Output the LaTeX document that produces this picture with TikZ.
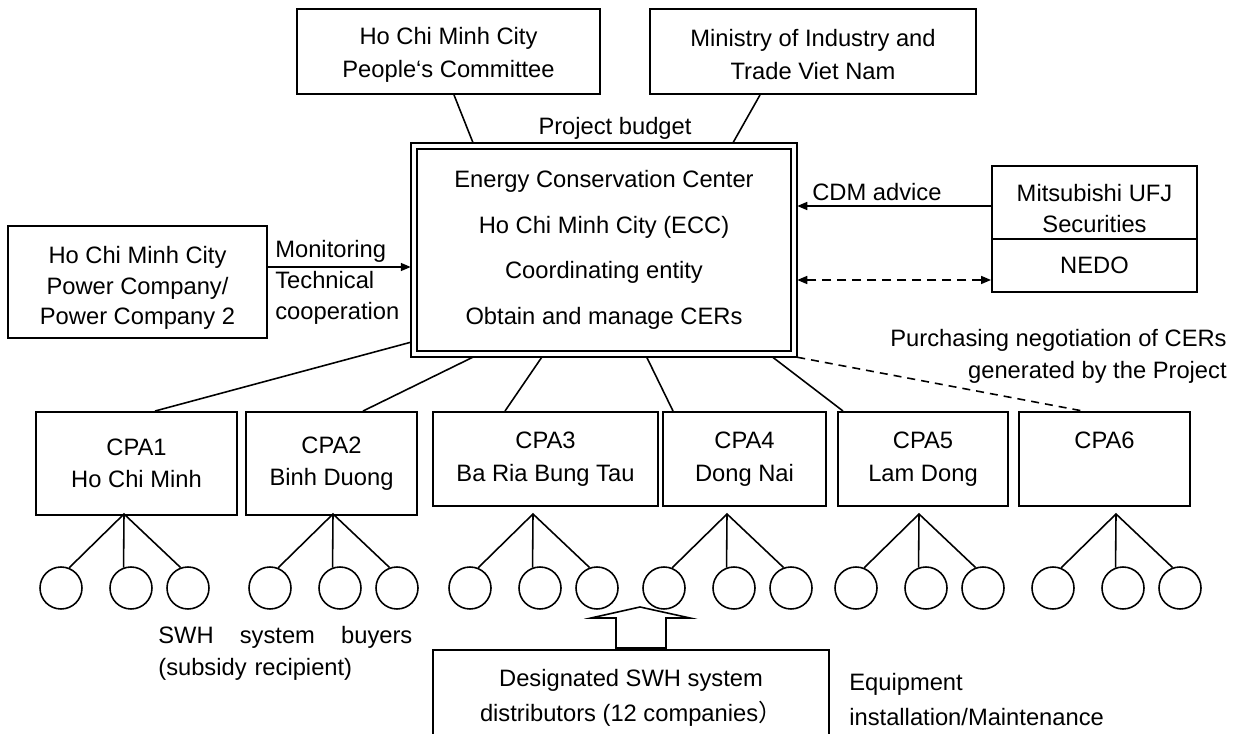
\documentclass[tikz,border=0pt]{standalone}
\usepackage{fontspec}
\setmainfont{Liberation Sans}
\newfontfamily\cjk{Noto Sans CJK SC}
\usetikzlibrary{positioning,arrows.meta}

\tikzset{
  every node/.style={font=\fontsize{13.5}{18.5}\selectfont},
  box/.style={draw, line width=1.1pt, align=center, inner sep=0pt},
  buyer/.style={draw, circle, line width=0.9pt, minimum size=0.84cm, inner sep=0pt},
  link/.style={line width=0.9pt},
  >={Triangle[length=0.2cm, width=0.16cm]}
}

\begin{document}
\begin{tikzpicture}
\useasboundingbox (0,0) rectangle (24.74,14.66);
\fill[white] (0,0) rectangle (24.74,14.66);

% funding side
\node[box, minimum width=6.06cm, minimum height=1.70cm, font=\fontsize{13.5}{19}\selectfont] (pcm) at (8.97, 13.63) {\rule{0pt}{13.5pt}Ho Chi Minh City\\People‘s Committee};
\node[box, minimum width=6.52cm, minimum height=1.70cm, font=\fontsize{13.5}{19}\selectfont] (moit) at (16.26, 13.63) {\rule{0pt}{13.5pt}Ministry of Industry and\\Trade Viet Nam};
\node (budget) at (12.30, 12.10) {Project budget};

% coordinating entity
\node[box, double, double distance=0.08cm, outer sep=0.06cm, minimum width=7.61cm, minimum height=4.17cm,
      font=\fontsize{13.5}{26}\selectfont] (ecc) at (12.08, 9.66)
  {Energy Conservation Center\\Ho Chi Minh City (ECC)\\Coordinating entity\\Obtain and manage CERs};

\draw[link] ([xshift=0.11cm]pcm.south) -- ([xshift=-2.62cm]ecc.north);
\draw[link] ([xshift=-1.06cm]moit.south) -- ([xshift=2.58cm]ecc.north);

% power company
\node[box, minimum width=5.18cm, minimum height=2.24cm, font=\fontsize{13.5}{17.4}\selectfont] (pow) at (2.75, 9.02)
  {\rule{0pt}{16.5pt}Ho Chi Minh City\\Power Company/\\Power Company 2};
\draw[link, ->] ([yshift=0.3cm]pow.east) -- ([yshift=0.3cm]pow.east -| ecc.west);
\node[anchor=west, align=left, inner sep=0pt, font=\fontsize{13.5}{17.6}\selectfont] (mon) at (5.50, 9.02)
  {Monitoring\\Technical\\cooperation};

% advisers
\node[box, minimum width=4.10cm, minimum height=1.46cm, font=\fontsize{13.5}{17.6}\selectfont] (mufj) at (21.89, 10.61)
  {\rule{0pt}{16.5pt}Mitsubishi UFJ\\Securities};
\node[box, minimum width=4.10cm, minimum height=1.06cm, below=-1.1pt of mufj] (nedo) {NEDO};
\draw[link, ->] ([yshift=-0.07cm]mufj.west) -- ([yshift=-0.07cm]mufj.west -| ecc.east);
\node[anchor=west, inner sep=0pt] (cdm) at (16.24, 10.82) {CDM advice};
\draw[link, dashed, dash pattern=on 0.18cm off 0.12cm, <->] ([yshift=-0.29cm]nedo.west) -- ([yshift=-0.29cm]nedo.west -| ecc.east);
\node[anchor=east, align=right, inner sep=0pt] (buy) at (24.54, 7.53)
  {Purchasing negotiation of CERs\\generated by the Project};

% CPAs
\node[box, minimum width=4.02cm, minimum height=2.06cm] (cpa1) at (2.73, 5.39) {CPA1\\Ho Chi Minh};
\node[box, minimum width=3.42cm, minimum height=2.06cm] (cpa2) at (6.63, 5.39) {CPA2\\Binh Duong};
\node[box, minimum width=4.50cm, minimum height=1.88cm] (cpa3) at (10.91, 5.48) {CPA3\\Ba Ria Bung Tau};
\node[box, minimum width=3.26cm, minimum height=1.88cm] (cpa4) at (14.89, 5.48) {CPA4\\Dong Nai};
\node[box, minimum width=3.40cm, minimum height=1.88cm] (cpa5) at (18.46, 5.48) {CPA5\\Lam Dong};
\node[box, minimum width=3.42cm, minimum height=1.88cm] (cpa6) at (22.09, 5.48) {CPA6\\\phantom{Lam Dong}};

\draw[link] ([yshift=0.3cm]ecc.south west) -- ([xshift=0.37cm]cpa1.north);
\draw[link] ([xshift=1.24cm]ecc.south west) -- ([xshift=0.63cm]cpa2.north);
\draw[link] ([xshift=2.62cm]ecc.south west) -- ([xshift=-0.81cm]cpa3.north);
\draw[link] ([xshift=4.72cm]ecc.south west) -- ([xshift=-1.43cm]cpa4.north);
\draw[link] ([xshift=7.24cm]ecc.south west) -- ([xshift=-1.60cm]cpa5.north);
\draw[link, dashed, dash pattern=on 0.16cm off 0.12cm] (ecc.south east) -- ([xshift=-0.43cm]cpa6.north);

% buyers under each CPA
\foreach \i/\ax in {1/2.48, 2/6.66, 3/10.66, 4/14.54, 5/18.38, 6/22.32} {
  \coordinate (f\i) at (\ax, 4.38);
  \node[buyer] (b\i-1) at (\ax-1.26, 2.90) {};
  \node[buyer] (b\i-2) at (\ax+0.14, 2.90) {};
  \node[buyer] (b\i-3) at (\ax+1.28, 2.90) {};
  \draw[link] (b\i-1.68) -- (f\i) -- (b\i-3.110);
  \draw[link] (f\i) -- (b\i-2.110);
}
\node[anchor=west, align=left, inner sep=0pt, text width=5.08cm] (swh) at (3.16, 1.59)
  {SWH\hfill system\hfill buyers\\(subsidy recipient)};

% distributors
\node[box, minimum width=7.92cm, minimum height=1.90cm, font=\fontsize{13.5}{20}\selectfont] (dist) at (12.62, 0.71)
  {Designated SWH system\\distributors (12 companies{\cjk ）}};
\draw[line width=0.9pt] (12.32,1.70) -- (12.32,2.30) -- (11.82,2.30) -- (12.80,2.52)
  -- (13.80,2.30) -- (13.32,2.30) -- (13.32,1.70) -- cycle;
\node[anchor=west, align=left, inner sep=0pt, font=\fontsize{13.5}{20}\selectfont] (equip) at (16.98, 0.67)
  {Equipment\\installation/Maintenance};
\end{tikzpicture}
\end{document}
